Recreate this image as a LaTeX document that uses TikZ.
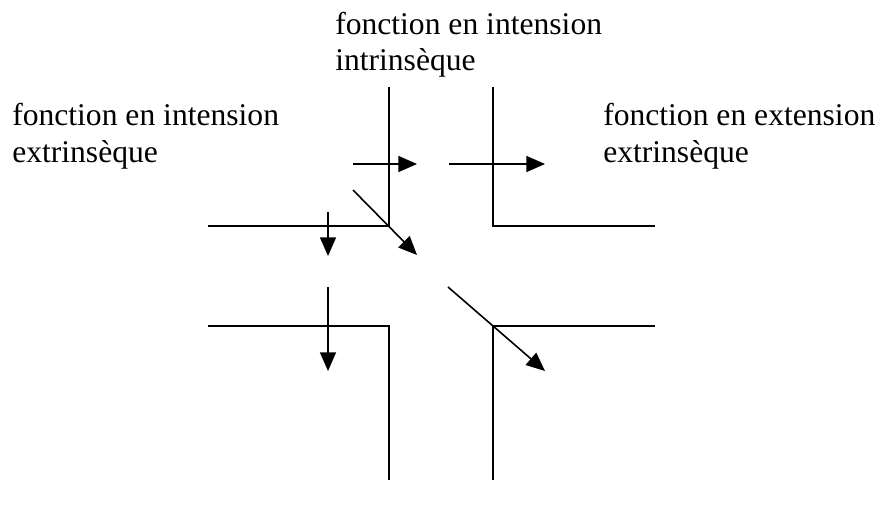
\documentclass[tikz,border=0pt]{standalone}
\usepackage{fontspec}
\setmainfont{Liberation Serif}
\usetikzlibrary{arrows.meta}
\begin{document}
\begin{tikzpicture}[x=0.75pt,y=-0.75pt,
  frame/.style={line width=1pt},
  flow/.style={line width=1.2pt,-{Triangle[length=14pt,width=12pt]}},
  label/.style={anchor=base west,inner sep=0pt,font=\fontsize{23.7pt}{27.75pt}\selectfont,align=left}]
\useasboundingbox (0,0) rectangle (881,507);
% labels
\node[label] (top) at (335,34) {fonction en intension};
\node[label] (top2) at (335,70) {intrinsèque};
\node[label] (left) at (12,125) {fonction en intension};
\node[label] (left2) at (12,162) {extrinsèque};
\node[label] (right) at (603,125) {fonction en extension};
\node[label] (right2) at (603,162) {extrinsèque};
% corners
\coordinate (tlA) at (389,87);
\coordinate (tlC) at (389,226);
\coordinate (tlB) at (208,226);
\coordinate (trA) at (493,87);
\coordinate (trC) at (493,226);
\coordinate (trB) at (655,226);
\coordinate (blA) at (208,326);
\coordinate (blC) at (389,326);
\coordinate (blB) at (389,480);
\coordinate (brA) at (655,326);
\coordinate (brC) at (493,326);
\coordinate (brB) at (493,480);
\draw[frame] (tlA) -- (tlC) -- (tlB);
\draw[frame] (trA) -- (trC) -- (trB);
\draw[frame] (blA) -- (blC) -- (blB);
\draw[frame] (brA) -- (brC) -- (brB);
% arrows
\coordinate (a1s) at (353,164); \coordinate (a1e) at (417,164);
\coordinate (a2s) at (449,164); \coordinate (a2e) at (545,164);
\coordinate (a3s) at (353,190); \coordinate (a3e) at (417,255);
\coordinate (a4s) at (328,212); \coordinate (a4e) at (328,256);
\coordinate (a5s) at (328,287); \coordinate (a5e) at (328,371);
\coordinate (a6s) at (448,287); \coordinate (a6e) at (545,371);
\draw[flow] (a1s) -- (a1e);
\draw[flow] (a2s) -- (a2e);
\draw[flow] (a3s) -- (a3e);
\draw[flow] (a4s) -- (a4e);
\draw[flow] (a5s) -- (a5e);
\draw[flow] (a6s) -- (a6e);
\end{tikzpicture}
\end{document}
